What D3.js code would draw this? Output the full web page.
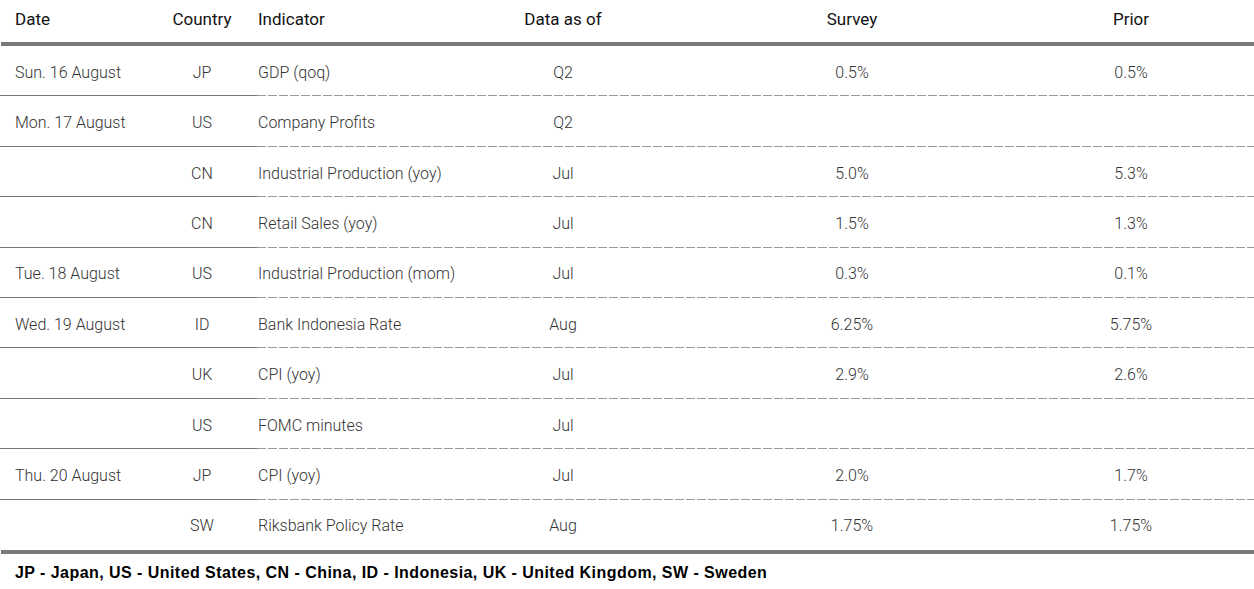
<!DOCTYPE html>
<html>
<head>
<meta charset="utf-8">
<script src="https://cdn.jsdelivr.net/npm/d3@7"></script>
<style>
  body { margin: 0; background: #fff; }
</style>
</head>
<body>
<div id="table"></div>
<script>
var headers = ["Date", "Country", "Indicator", "Data as of", "Survey", "Prior"];
var dates = ["Sun. 16 August", "Mon. 17 August", "", "", "Tue. 18 August", "Wed. 19 August", "", "", "Thu. 20 August", ""];
var countries = ["JP", "US", "CN", "CN", "US", "ID", "UK", "US", "JP", "SW"];
var indicators = ["GDP (qoq)", "Company Profits", "Industrial Production (yoy)", "Retail Sales (yoy)",
    "Industrial Production (mom)", "Bank Indonesia Rate", "CPI (yoy)", "FOMC minutes", "CPI (yoy)", "Riksbank Policy Rate"];
var dataAsOf = ["Q2", "Q2", "Jul", "Jul", "Jul", "Aug", "Jul", "Jul", "Jul", "Aug"];
var survey = ["0.5%", "", "5.0%", "1.5%", "0.3%", "6.25%", "2.9%", "", "2.0%", "1.75%"];
var prior = ["0.5%", "", "5.3%", "1.3%", "0.1%", "5.75%", "2.6%", "", "1.7%", "1.75%"];
var footnote = "JP - Japan, US - United States, CN - China, ID - Indonesia, UK - United Kingdom, SW - Sweden";

var width = 1254, height = 589;
var bodyTop = 46, bodyBottom = 550;

// column x positions and anchors
var cols = [
    { x: 15, anchor: "start" },
    { x: 202, anchor: "middle" },
    { x: 258, anchor: "start" },
    { x: 563, anchor: "middle" },
    { x: 852, anchor: "middle" },
    { x: 1131, anchor: "middle" }
];

var rows = d3.range(dates.length).map(function (i) {
    return [dates[i], countries[i], indicators[i], dataAsOf[i], survey[i], prior[i]];
});

var y = d3.scaleBand().domain(d3.range(rows.length)).range([bodyTop, bodyBottom]);

var svg = d3.select("#table").append("svg")
    .attr("width", width)
    .attr("height", height)
    .style("font-family", "Roboto, 'Liberation Sans', sans-serif");

// header
svg.append("g").selectAll("text")
    .data(headers)
    .enter().append("text")
    .attr("x", function (d, i) { return cols[i].x; })
    .attr("y", 19)
    .attr("dy", "0.35em")
    .attr("text-anchor", function (d, i) { return cols[i].anchor; })
    .attr("font-size", 17)
    .attr("fill", "#111")
    .text(function (d) { return d; });

// thick rules
svg.append("rect").attr("x", 1).attr("y", 42).attr("width", width).attr("height", 4).attr("fill", "#7a7a7a");
svg.append("rect").attr("x", 1).attr("y", 550).attr("width", width).attr("height", 4).attr("fill", "#7a7a7a");

// row separators: solid under date/country, dashed after
var seps = d3.range(1, rows.length);
svg.append("g").selectAll("line")
    .data(seps)
    .enter().append("line")
    .attr("x1", 0).attr("x2", 257)
    .attr("y1", function (d) { return Math.round(y(d)) - 0.5; })
    .attr("y2", function (d) { return Math.round(y(d)) - 0.5; })
    .attr("stroke", "#777")
    .attr("stroke-width", 1);
svg.append("g").selectAll("line")
    .data(seps)
    .enter().append("line")
    .attr("x1", 257).attr("x2", width)
    .attr("y1", function (d) { return Math.round(y(d)) - 0.5; })
    .attr("y2", function (d) { return Math.round(y(d)) - 0.5; })
    .attr("stroke", "#999")
    .attr("stroke-width", 1)
    .attr("stroke-dasharray", "9,2");

// body cells
var rowG = svg.append("g").selectAll("g")
    .data(rows)
    .enter().append("g")
    .attr("transform", function (d, i) { return "translate(0," + (y(i) + y.bandwidth() / 2 + 1) + ")"; });

rowG.selectAll("text")
    .data(function (d) { return d; })
    .enter().append("text")
    .attr("x", function (d, i) { return cols[i].x; })
    .attr("dy", "0.35em")
    .attr("text-anchor", function (d, i) { return cols[i].anchor; })
    .attr("font-size", 16)
    .attr("font-weight", 300)
    .attr("fill", "#333")
    .text(function (d) { return d; });

// footnote
svg.append("text")
    .attr("x", 15)
    .attr("y", 572)
    .attr("dy", "0.35em")
    .attr("font-size", 16)
    .attr("font-weight", "bold")
    .attr("letter-spacing", 0.45)
    .style("font-family", "'Liberation Sans', Arial, sans-serif")
    .attr("fill", "#000")
    .text(footnote);
</script>
</body>
</html>
